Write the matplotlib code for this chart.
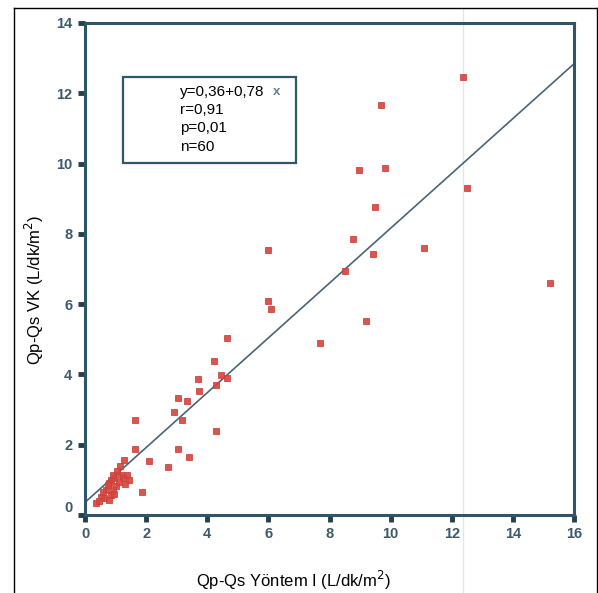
import matplotlib
matplotlib.use("Agg")
import matplotlib.pyplot as plt
from matplotlib.patches import Rectangle
from matplotlib.lines import Line2D
import numpy as np

# ---- data ----
x_vals = [12.37, 9.69, 8.97, 9.82, 9.49, 12.51, 8.78, 9.41, 11.09, 8.52,
          15.20, 5.98, 5.98, 6.10, 9.18, 7.70, 4.63, 4.22, 3.70, 4.44,
          4.65, 4.27, 3.73, 3.05, 3.35, 2.91, 3.19, 1.64, 4.30, 1.64,
          3.05, 3.40, 2.08, 2.72, 1.88, 1.28, 1.13, 1.39, 1.45, 0.96,
          1.17, 0.85, 0.79, 1.01, 0.69, 0.90, 0.85, 0.63, 0.79, 0.36,
          0.52, 1.23, 0.90, 1.05, 0.74, 1.30, 0.60, 1.10, 0.95, 0.45]
y_vals = [12.45, 11.67, 9.82, 9.87, 8.77, 9.31, 7.85, 7.43, 7.60, 6.94,
          6.60, 7.53, 6.10, 5.86, 5.53, 4.89, 5.03, 4.39, 3.86, 3.98,
          3.89, 3.70, 3.54, 3.32, 3.25, 2.92, 2.70, 2.70, 2.40, 1.87,
          1.87, 1.64, 1.55, 1.37, 0.65, 1.56, 1.39, 1.15, 1.00, 1.05,
          1.14, 0.99, 0.90, 0.82, 0.71, 0.71, 0.57, 0.48, 0.43, 0.33,
          0.52, 1.04, 1.14, 1.25, 0.85, 0.88, 0.65, 0.95, 0.60, 0.40]
intercept = 0.36
slope = 0.78
x_ticks = [0, 2, 4, 6, 8, 10, 12, 14, 16]
y_ticks = [0, 2, 4, 6, 8, 10, 12, 14]
stats_lines = ["y=0,36+0,78", "r=0,91", "p=0,01", "n=60"]
xlabel = "Qp-Qs Yöntem I (L/dk/m$^2$)"
ylabel = "Qp-Qs VK (L/dk/m$^2$)"

W, H = 598, 593
fig = plt.figure(figsize=(W / 100, H / 100), dpi=100)
fig.patch.set_facecolor("white")

def fx(px):
    return px / W

def fy(py):
    return 1 - py / H

ax = fig.add_axes([fx(85), fy(515), (574 - 85) / W, (515 - 23) / H])
ax.set_facecolor("none")
frame_col = "#2e5668"
for s in ax.spines.values():
    s.set_color(frame_col)
    s.set_linewidth(2.2)

ax.plot(x_vals, y_vals, "s", ms=4.5, color="#d8463f", mec="#c8403a",
        mew=0.6, alpha=0.92, zorder=3, clip_on=False)
xs = np.array([0.05, 16.0])
ax.plot(xs, intercept + slope * xs, color="#4a6478", lw=1.2, zorder=2)

ax.set_xlim(0, 16)
ax.set_ylim(0, 14)
ax.set_xticks(x_ticks)
ax.set_yticks(y_ticks)
tick_font = dict(family=["Liberation Sans Narrow", "Liberation Sans"],
                 weight="bold", size=10.5)
ax.set_xticklabels([str(t) for t in x_ticks], color="#3d5a6a", **tick_font)
ax.set_yticklabels([str(t) for t in y_ticks], color="#3d5a6a", **tick_font)
ax.tick_params(axis="both", direction="out", length=5, width=3.5,
               color="#24404d", pad=4)
ax.get_yticklabels()[0].set_verticalalignment("bottom")

label_font = dict(family=["Liberation Sans", "DejaVu Sans"], size=12)
fig.text(fx(293), fy(580), xlabel, ha="center", va="center", **label_font)
fig.text(fx(34), fy(290), ylabel, ha="center", va="center",
         rotation=90, **label_font)

# stats box
fig.patches.append(Rectangle((fx(123), fy(163)), (296 - 123) / W,
                             (163 - 77) / H, transform=fig.transFigure,
                             fill=True, facecolor="white",
                             edgecolor=frame_col, lw=1.6, zorder=5))
for i, (t, py) in enumerate(zip(stats_lines, [92, 110, 128, 147])):
    fig.text(fx(180), fy(py), t, ha="left", va="center", zorder=6,
             family=["Liberation Sans", "DejaVu Sans"], size=11)
fig.text(fx(273), fy(92), "x", ha="left", va="center", zorder=6,
         family=["Liberation Sans", "DejaVu Sans"], size=9.5, weight="bold",
         color="#5f7f9a")

# outer frame and faint vertical line
fig.add_artist(Line2D([fx(463), fx(463)], [0, fy(8)], color="#d4eaf5", lw=0.9,
                      transform=fig.transFigure, zorder=0))
fig.add_artist(Line2D([fx(14), fx(14)], [0, fy(8)], color="black", lw=1.0,
                      transform=fig.transFigure))
fig.add_artist(Line2D([fx(14), fx(597)], [fy(8), fy(8)], color="black", lw=1.0,
                      transform=fig.transFigure))
fig.add_artist(Line2D([fx(597), fx(597)], [0, fy(8)], color="black", lw=1.0,
                      transform=fig.transFigure))

fig.savefig("out.png", dpi=100)
